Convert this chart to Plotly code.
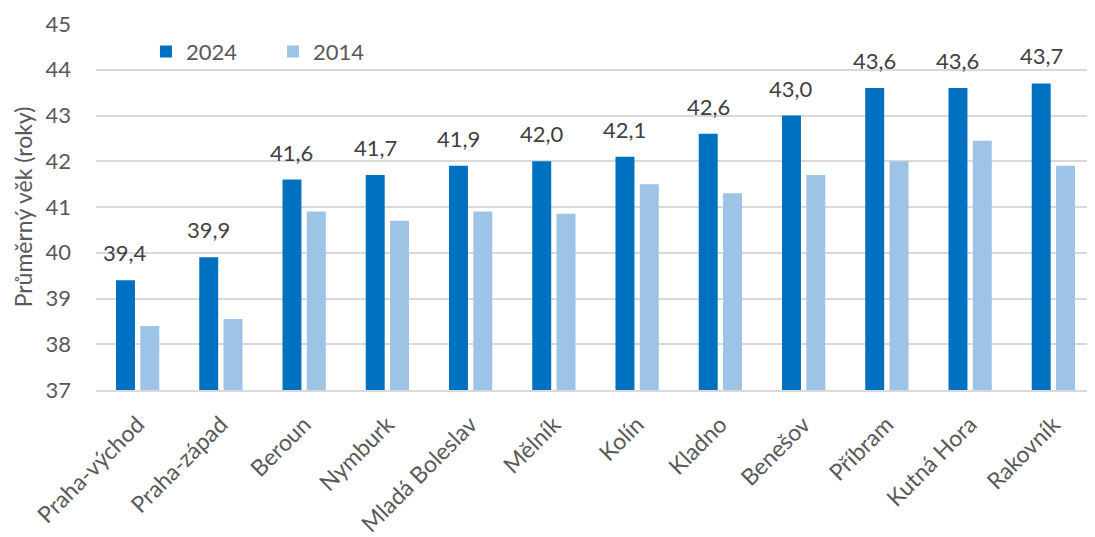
import plotly.graph_objects as go

categories = ["Praha-východ", "Praha-západ", "Beroun", "Nymburk", "Mladá Boleslav", "Mělník",
              "Kolín", "Kladno", "Benešov", "Příbram", "Kutná Hora", "Rakovník"]
values_2024 = [39.4, 39.9, 41.6, 41.7, 41.9, 42.0, 42.1, 42.6, 43.0, 43.6, 43.6, 43.7]
values_2014 = [38.4, 38.55, 40.9, 40.7, 40.9, 40.85, 41.5, 41.3, 41.7, 42.0, 42.45, 41.9]
labels_2024 = [f"{v:.1f}".replace(".", ",") for v in values_2024]
y_ticks = [37, 38, 39, 40, 41, 42, 43, 44, 45]

font_family = "Lato, Open Sans, sans-serif"

W, H = 1087, 529
M_L, M_R, M_T, M_B = 88, 0, 16, 147
BARGAP, BARGROUPGAP = 0.416, 0.22

fig = go.Figure()
fig.add_trace(go.Bar(
    x=categories, y=values_2024, name="2024",
    marker=dict(color="#0070C0", line=dict(width=0)),
))
fig.add_trace(go.Bar(
    x=categories, y=values_2014, name="2014",
    marker=dict(color="#9DC3E6", line=dict(width=0)),
))

# value labels above the 2024 bars (first bar of each group)
plot_w = W - M_L - M_R
slot_px = plot_w / len(categories) * (1 - BARGAP) / 2
for cat, val, lab in zip(categories, values_2024, labels_2024):
    fig.add_annotation(x=cat, y=val, xref="x", yref="y", text=lab, showarrow=False,
                       xanchor="center", yanchor="bottom", xshift=-slot_px / 2, yshift=12,
                       font=dict(size=22, color="#404040", family=font_family))

fig.update_layout(
    width=W, height=H,
    margin=dict(l=M_L, r=M_R, t=M_T, b=M_B, autoexpand=False),
    paper_bgcolor="white", plot_bgcolor="white",
    barmode="group", bargap=BARGAP, bargroupgap=BARGROUPGAP,
    font=dict(family=font_family, color="#595959", size=22),
    showlegend=True,
    legend=dict(orientation="h", x=0.05, y=0.924, xanchor="left", yanchor="middle",
                font=dict(size=22, color="#595959"), bgcolor="rgba(0,0,0,0)",
                entrywidth=82, entrywidthmode="pixels", traceorder="normal"),
    xaxis=dict(tickangle=-45, tickfont=dict(size=23, color="#595959"), automargin=False,
               showline=True, linecolor="#D9D9D9", linewidth=2, ticks="", ticklabelstandoff=10),
    yaxis=dict(range=[37, 45], tickvals=y_ticks, tickfont=dict(size=22, color="#595959"),
               showgrid=True, gridcolor="#D9D9D9", gridwidth=1.5, zeroline=False, automargin=False,
               title=dict(text="Průměrný věk (roky)", font=dict(size=23, color="#595959"), standoff=6),
               ticks="", ticklabelstandoff=24),
)

fig.write_html("out.html")
